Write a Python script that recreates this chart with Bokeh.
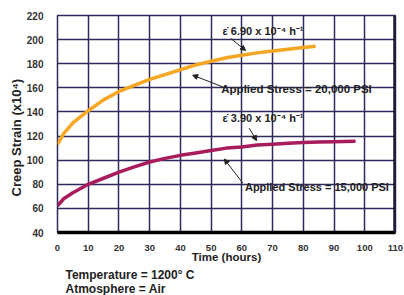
from bokeh.plotting import figure
from bokeh.models import Range1d, Label, Arrow, NormalHead, Span, FixedTicker, Title
from bokeh.embed import file_html
from bokeh.resources import INLINE

# ---- data ----
time_20k = [0, 2, 5, 10, 15, 20, 25, 30, 35, 40, 45, 50, 55, 60, 65, 70, 75, 80, 84]
strain_20k = [113, 122, 131, 141, 150, 157, 162, 167, 171, 175, 179, 182, 185, 187, 189, 190.5, 192, 193.5, 194.5]

time_15k = [0, 2, 5, 10, 15, 20, 25, 30, 35, 40, 45, 50, 55, 60, 65, 70, 75, 80, 85, 90, 97]
strain_15k = [62, 68, 73, 80, 85, 90, 94.5, 98.5, 101.5, 104, 106, 108, 110, 111, 112.5, 113.3, 114, 114.6, 115, 115.3, 115.6]

x_ticks = [0, 10, 20, 30, 40, 50, 60, 70, 80, 90, 100, 110]
y_ticks = [40, 60, 80, 100, 120, 140, 160, 180, 200, 220]

rate_20k = "ε̇ 6.90 x 10⁻⁴ h⁻¹"
rate_15k = "ε̇ 3.90 x 10⁻⁴ h⁻¹"
stress_20k = "Applied Stress = 20,000 PSI"
stress_15k = "Applied Stress = 15,000 PSI"
notes = ["Temperature = 1200° C", "Atmosphere = Air"]
y_title = "Creep Strain (x10⁴)"

FONT = "Liberation Sans"
GRID = "#2e2a5c"
TXT = "#222222"

p = figure(width=404, height=295, x_range=Range1d(0, 110), y_range=Range1d(40, 220),
           output_backend="svg", toolbar_location=None,
           min_border_left=57, min_border_right=9, min_border_top=15, min_border_bottom=62)

p.background_fill_color = None
p.border_fill_color = None
p.outline_line_color = GRID
p.outline_line_width = 1.5

p.xaxis.ticker = FixedTicker(ticks=x_ticks)
p.yaxis.ticker = FixedTicker(ticks=y_ticks)
p.xgrid.ticker = FixedTicker(ticks=x_ticks)
p.ygrid.ticker = FixedTicker(ticks=y_ticks)
for g in (p.xgrid, p.ygrid):
    g.grid_line_color = GRID
    g.grid_line_width = 1.5
    g.grid_line_alpha = 1.0

for ax in (p.xaxis, p.yaxis):
    ax.major_tick_line_color = None
    ax.minor_tick_line_color = None
    ax.major_label_text_font = FONT
    ax.major_label_text_color = "#333333"
    ax.major_label_text_font_style = "bold"
p.xaxis.major_label_text_font_size = "9.5px"
p.yaxis.major_label_text_font_size = "10px"
p.xaxis.major_label_standoff = 6
p.yaxis.major_label_standoff = 8
p.yaxis.axis_line_color = None
p.xaxis.axis_line_color = "black"
p.xaxis.axis_line_width = 3.5

p.xaxis.axis_label = "Time (hours)"
p.xaxis.axis_label_text_font = FONT
p.xaxis.axis_label_text_font_size = "11.5px"
p.xaxis.axis_label_text_font_style = "bold"
p.xaxis.axis_label_text_color = TXT
p.xaxis.axis_label_standoff = -3

p.add_layout(Span(location=110, dimension="height", line_color="#1a1a2e", line_width=4.5))

p.line(time_20k, strain_20k, line_color="#f5a623", line_width=3.5)
p.line(time_15k, strain_15k, line_color="#a81c5c", line_width=3.5)

def lab(x, y, t, size="11px"):
    p.add_layout(Label(x=x, y=y, text=t, text_font=FONT, text_font_size=size,
                       text_font_style="bold", text_color=TXT, text_align="left",
                       text_baseline="middle"))

lab(53.7, 207, rate_20k)
lab(53.7, 135, rate_15k)
lab(53.3, 159, stress_20k, size="11.5px")
lab(61.0, 77.5, stress_15k, size="11px")

def ttl(t, side, offset, size, standoff):
    p.add_layout(Title(text=t, align="left", offset=offset, text_font=FONT,
                       text_font_size=size, text_font_style="bold", text_color=TXT,
                       standoff=standoff), side)

ttl("\n".join(notes), "below", 8, "12px", 0)
ttl(y_title, "left", 36, "13px", 0)

def arr(x0, y0, x1, y1):
    p.add_layout(Arrow(end=NormalHead(size=5, fill_color=TXT, line_color=TXT),
                       x_start=x0, y_start=y0, x_end=x1, y_end=y1,
                       line_color=TXT, line_width=1))

arr(56.4, 201, 61.2, 191)
arr(54, 160.6, 44, 170.5)
arr(62.4, 126.5, 64.8, 116.2)
arr(60.3, 81, 54.3, 100.9)

open("out.html", "w").write(file_html(p, INLINE))
